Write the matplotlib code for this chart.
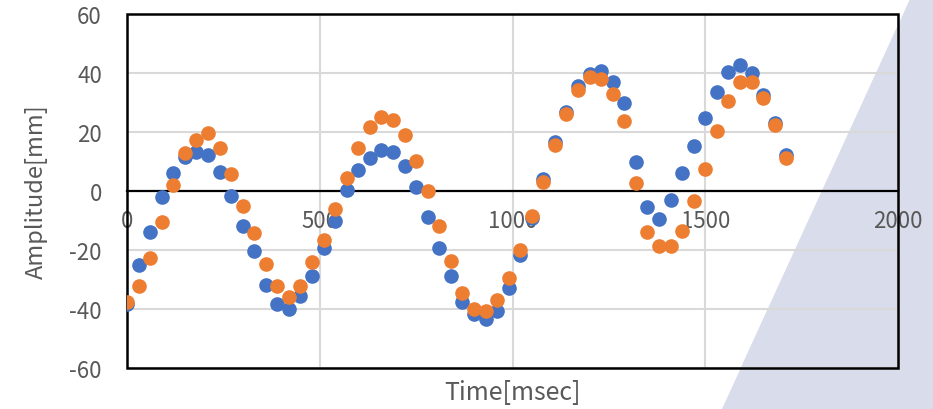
import matplotlib
matplotlib.use("Agg")
import matplotlib.pyplot as plt
from matplotlib.patches import Rectangle
import numpy as np

# time axis: one sample every 30 msec
time_ms = np.arange(58) * 30

amp_blue = [-38.3, -25.1, -14.0, -2.1, 6.0, 11.6, 13.3, 12.3, 6.3, -1.6,
            -11.8, -20.5, -31.7, -38.3, -40.0, -35.5, -28.9, -19.4, -10.1, 0.3,
            7.1, 11.1, 13.9, 13.3, 8.4, 1.5, -8.9, -19.4, -28.9, -37.5,
            -41.7, -43.5, -40.6, -32.9, -21.6, -9.0, 4.1, 16.7, 26.9, 35.5,
            39.7, 40.6, 37.0, 29.8, 9.9, -5.5, -9.5, -2.9, 6.0, 15.4,
            24.7, 33.5, 40.2, 42.7, 39.9, 32.5, 23.0, 12.2]
amp_orange = [-37.5, -32.1, -22.7, -10.4, 2.0, 12.9, 17.3, 19.6, 14.6, 5.8,
              -5.2, -14.3, -24.7, -32.2, -36.0, -32.3, -24.2, -16.5, -6.1, 4.3,
              14.6, 21.6, 25.2, 24.2, 19.1, 10.3, 0.1, -11.8, -23.8, -34.6,
              -40.0, -40.8, -37.0, -29.6, -20.0, -8.4, 2.9, 15.7, 26.1, 34.3,
              38.7, 38.0, 32.9, 23.6, 2.6, -13.8, -18.8, -18.5, -13.7, -3.3,
              7.5, 20.4, 30.6, 36.8, 36.8, 31.4, 22.4, 11.2]

x_ticks = [0, 500, 1000, 1500, 2000]
y_ticks = [-60, -40, -20, 0, 20, 40, 60]

plt.rcParams['font.family'] = ['Noto Sans CJK JP', 'DejaVu Sans']
plt.rcParams['axes.unicode_minus'] = False
txt_color = '#595959'
band_color = '#D9DCEA'
band_x = [910 / 933, 1.0, 1.0, 722 / 933]   # figure fraction
band_y = [1.0, 1.0, 0.0, 0.0]

fig = plt.figure(figsize=(9.33, 4.10), dpi=100)
fig.patch.set_facecolor('white')

# background layer with the slanted band on the right
bg = fig.add_axes([0, 0, 1, 1], zorder=-1)
bg.set_xlim(0, 1)
bg.set_ylim(0, 1)
bg.axis('off')
bg.fill(band_x, band_y, color=band_color, linewidth=0)

ax = fig.add_axes([127 / 933, 41 / 410, 771 / 933, 354 / 410], zorder=1)
ax.set_facecolor('none')
ax.set_xlim(0, 2000)
ax.set_ylim(-60, 60)
# same band again inside the plot area, under the grid
ax.fill(band_x, band_y, color=band_color, linewidth=0,
        transform=fig.transFigure, zorder=0.2)

ax.set_xticks(x_ticks)
ax.set_yticks(y_ticks)
ax.grid(True, color='#D9D9D9', linewidth=1.5)
ax.set_axisbelow(True)

# bottom spine becomes the zero line, outer box is a rectangle
for s in ['top', 'right', 'left']:
    ax.spines[s].set_visible(False)
ax.spines['bottom'].set_position(('data', 0))
ax.spines['bottom'].set_linewidth(1.6)
ax.spines['bottom'].set_color('black')
ax.add_patch(Rectangle((0, 0), 1, 1, transform=ax.transAxes, fill=False,
                       edgecolor='black', linewidth=1.8, clip_on=False, zorder=2))

ax.tick_params(axis='both', length=0, labelsize=16, labelcolor=txt_color)
ax.tick_params(axis='y', pad=18)
ax.tick_params(axis='x', pad=13)

ax.plot(time_ms, amp_blue, 'o', color='#4472C4', markersize=9.5, zorder=3)
ax.plot(time_ms, amp_orange, 'o', color='#ED7D31', markersize=9.5, zorder=4)

ax.set_xlim(0, 2000)
ax.set_ylim(-60, 60)

ax.set_ylabel('Amplitude[mm]', fontsize=17, color=txt_color)
ax.yaxis.set_label_coords(-0.103, 0.5)
ax.text(0.5, -0.068, 'Time[msec]', transform=ax.transAxes, fontsize=18,
        color=txt_color, ha='center', va='center')

fig.savefig('out.png', dpi=100)
